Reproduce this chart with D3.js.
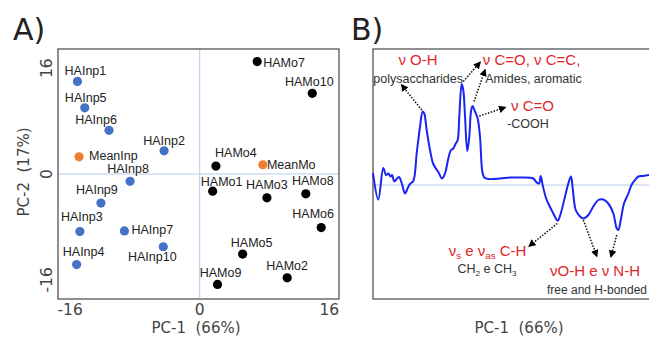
<!DOCTYPE html>
<html>
<head>
<meta charset="utf-8">
<script src="https://cdn.jsdelivr.net/npm/d3@7"></script>
<style>
  body { margin: 0; background: #fff; }
  svg { display: block; font-family: "Liberation Sans", Arial, sans-serif; }
</style>
</head>
<body>
<script>
// panel A scores (PC-1, PC-2)
var inpNames = ["HAInp1", "HAInp2", "HAInp3", "HAInp4", "HAInp5", "HAInp6", "HAInp7", "HAInp8", "HAInp9", "HAInp10"];
var inpPC1 = [-15.1, -4.4, -14.8, -15.2, -14.2, -11.2, -9.3, -8.6, -12.2, -4.5];
var inpPC2 = [14.0, 3.5, -8.7, -13.7, 10.0, 6.6, -8.6, -1.1, -4.4, -11.0];

var moNames = ["HAMo1", "HAMo2", "HAMo3", "HAMo4", "HAMo5", "HAMo6", "HAMo7", "HAMo8", "HAMo9", "HAMo10"];
var moPC1 = [1.6, 10.8, 8.3, 2.0, 5.3, 15.0, 7.1, 13.1, 2.2, 13.9];
var moPC2 = [-2.6, -15.7, -3.6, 1.2, -12.1, -8.1, 17.0, -3.0, -16.7, 12.2];

var meanNames = ["MeanInp", "MeanMo"];
var meanPC1 = [-14.9, 7.8];
var meanPC2 = [2.6, 1.4];

var tickValues = [-16, 0, 16];

// panel B loading spectrum (wavenumber, loading)
var specWave = [350, 423, 492, 529, 561, 591, 612, 643, 676, 708, 745, 791, 828, 859, 905, 952, 997, 1034, 1056, 1089,
  1135, 1180, 1249, 1300, 1341, 1387, 1424, 1456, 1489, 1516, 1538, 1571, 1593, 1617, 1648, 1676, 1699, 1720, 1754, 1791,
  1823, 1855, 1882, 1938, 2099, 2237, 2374, 2557, 2604, 2636, 2659, 2687, 2732, 2764, 2833, 2888, 2902, 2935, 2994, 3039,
  3076, 3100, 3141, 3200, 3246, 3315, 3383, 3452, 3521, 3590, 3659, 3706, 3728, 3761, 3806, 3866, 3912, 3958, 4003, 4072, 4150];
var specLoad = [0.024, -0.029, 0.034, 0.020, 0.023, 0.017, 0.020, 0.007, 0.012, 0.016, 0.004, -0.017, -0.006, 0.002, 0.008, 0.064, 0.116, 0.147, 0.143, 0.110,
  0.070, 0.042, 0.026, 0.013, 0.023, 0.053, 0.070, 0.073, 0.083, 0.090, 0.137, 0.202, 0.190, 0.137, 0.068, 0.097, 0.147, 0.158, 0.147, 0.133,
  0.097, 0.027, 0.015, 0.012, 0.013, 0.015, 0.015, 0.013, 0.005, 0.003, 0.018, -0.001, -0.026, -0.037, -0.057, -0.071, -0.070, -0.057, -0.023, 0.003,
  0.017, -0.007, -0.050, -0.063, -0.067, -0.060, -0.043, -0.030, -0.029, -0.037, -0.057, -0.087, -0.090, -0.070, -0.037, -0.017, 0.001, 0.010, 0.017, 0.018, 0.020];

// label placement for panel A (offset from point)
var labelPos = {
  HAInp1: [8, -11], HAInp2: [0, -10], HAInp3: [2, -15], HAInp4: [7, -13], HAInp5: [1, -10],
  HAInp6: [-13, -11], HAInp7: [7, -1, "start"], HAInp8: [-2, -13], HAInp9: [-4, -14], HAInp10: [-11, 10],
  HAMo1: [9, -10], HAMo2: [0, -12], HAMo3: [0, -13], HAMo4: [20, -14], HAMo5: [9, -12],
  HAMo6: [-8, -14], HAMo7: [6, 1, "start"], HAMo8: [7, -13], HAMo9: [3, -12], HAMo10: [-3, -12],
  MeanInp: [10, -1, "start"], MeanMo: [4, 0, "start"]
};

var w = 649, h = 338;
var svg = d3.select("body").append("svg").attr("width", w).attr("height", h);

var xA = d3.scaleLinear().domain([-17.5, 17.2]).range([58, 339]);
var yA = d3.scaleLinear().domain([-18.9, 18.9]).range([299, 49]);

var gA = svg.append("g");
// zero lines
gA.append("line").attr("x1", xA(0)).attr("x2", xA(0)).attr("y1", yA.range()[0]).attr("y2", yA.range()[1])
  .attr("stroke", "#b9cbea").attr("stroke-width", 1);
gA.append("line").attr("x1", xA.range()[0]).attr("x2", xA.range()[1]).attr("y1", yA(0)).attr("y2", yA(0))
  .attr("stroke", "#b9cbea").attr("stroke-width", 1);
gA.append("rect").attr("x", 58).attr("y", 49).attr("width", 281).attr("height", 250)
  .attr("fill", "none").attr("stroke", "#555").attr("stroke-width", 1.3);

// ticks
gA.selectAll(".xt").data(tickValues).enter().append("text")
  .attr("x", function (d) { return xA(d); }).attr("y", 315)
  .attr("text-anchor", "middle").attr("font-family", "DejaVu Sans").attr("font-size", 15.5)
  .attr("fill", "#444").text(function (d) { return d; });
gA.selectAll(".yt").data(tickValues).enter().append("text")
  .attr("transform", function (d) { return "translate(52," + yA(d) + ") rotate(-90)"; })
  .attr("text-anchor", "middle").attr("font-family", "DejaVu Sans").attr("font-size", 15.5)
  .attr("fill", "#444").text(function (d) { return d; });

gA.append("text").attr("x", 196).attr("y", 333).attr("text-anchor", "middle")
  .attr("font-family", "DejaVu Sans").attr("font-size", 15).attr("fill", "#444")
  .attr("xml:space", "preserve").text("PC-1  (66%)");
gA.append("text").attr("transform", "translate(29,172) rotate(-90)").attr("text-anchor", "middle")
  .attr("font-family", "DejaVu Sans").attr("font-size", 15).attr("fill", "#444")
  .attr("xml:space", "preserve").text("PC-2  (17%)");

svg.append("text").attr("x", 13).attr("y", 40).attr("font-family", "DejaVu Sans").attr("font-size", 30)
  .attr("fill", "#222").text("A)");
svg.append("text").attr("x", 351).attr("y", 40).attr("font-family", "DejaVu Sans").attr("font-size", 30)
  .attr("fill", "#222").text("B)");

function drawGroup(names, px, py, color) {
  var rows = names.map(function (n, i) { return { name: n, x: px[i], y: py[i] }; });
  gA.selectAll(null).data(rows).enter().append("circle")
    .attr("cx", function (d) { return xA(d.x); })
    .attr("cy", function (d) { return yA(d.y); })
    .attr("r", 4.6).attr("fill", color);
  gA.selectAll(null).data(rows).enter().append("text")
    .attr("x", function (d) { return xA(d.x) + labelPos[d.name][0]; })
    .attr("y", function (d) { return yA(d.y) + labelPos[d.name][1]; })
    .attr("dy", "0.36em")
    .attr("text-anchor", function (d) { return labelPos[d.name][2] || "middle"; })
    .attr("font-size", 12.5).attr("fill", "#222")
    .text(function (d) { return d.name; });
}
drawGroup(inpNames, inpPC1, inpPC2, "#4472c4");
drawGroup(moNames, moPC1, moPC2, "#000");
drawGroup(meanNames, meanPC1, meanPC2, "#ed7d31");

// panel B
var xB = d3.scaleLinear().domain([350, 4150]).range([373, 649]);
var yB = d3.scaleLinear().domain([-0.228, 0.272]).range([299, 49]);
var gB = svg.append("g");

gB.append("line").attr("x1", 373).attr("x2", 649).attr("y1", yB(0)).attr("y2", yB(0))
  .attr("stroke", "#b9cbea").attr("stroke-width", 1);
gB.append("rect").attr("x", 373).attr("y", 49).attr("width", 300).attr("height", 250)
  .attr("fill", "none").attr("stroke", "#555").attr("stroke-width", 1.3);

var spec = specWave.map(function (d, i) { return [d, specLoad[i]]; });
gB.append("path").datum(spec)
  .attr("d", d3.line().x(function (d) { return xB(d[0]); }).y(function (d) { return yB(d[1]); })
    .curve(d3.curveCatmullRom.alpha(0.5)))
  .attr("fill", "none").attr("stroke", "#1a24f2").attr("stroke-width", 2);

gB.append("text").attr("x", 519).attr("y", 333).attr("text-anchor", "middle")
  .attr("font-family", "DejaVu Sans").attr("font-size", 15).attr("fill", "#444")
  .attr("xml:space", "preserve").text("PC-1  (66%)");

// arrows
svg.append("defs").append("marker").attr("id", "ah").attr("viewBox", "0 0 10 10")
  .attr("refX", 8).attr("refY", 5).attr("markerWidth", 5).attr("markerHeight", 5)
  .attr("orient", "auto").append("path").attr("d", "M0,0L10,5L0,10z").attr("fill", "#000");

var arrowFrom = [[1021, 0.150], [1593, 0.207], [1741, 0.167], [1814, 0.138], [2888, -0.077], [3246, -0.070], [3706, -0.100]];
var arrowTo = [[745, 0.200], [1823, 0.245], [1892, 0.230], [2168, 0.155], [2502, -0.122], [3430, -0.142], [3627, -0.143]];
gB.selectAll(null).data(arrowFrom).enter().append("line")
  .attr("x1", function (d) { return xB(d[0]); }).attr("y1", function (d) { return yB(d[1]); })
  .attr("x2", function (d, i) { return xB(arrowTo[i][0]); }).attr("y2", function (d, i) { return yB(arrowTo[i][1]); })
  .attr("stroke", "#111").attr("stroke-width", 1.5).attr("stroke-dasharray", "1.5,1.5")
  .attr("marker-end", "url(#ah)");

function note(wn, ld, size, color, parts, anchor) {
  var t = gB.append("text").attr("x", xB(wn)).attr("y", yB(ld))
    .attr("text-anchor", anchor || "middle").attr("font-size", size).attr("fill", color);
  parts.forEach(function (p) {
    var s = t.append("tspan").text(p[0]);
    if (p[1] == "sub") s.attr("dy", 3).attr("font-size", size * 0.65);
    if (p[1] == "up") s.attr("dy", -3);
  });
}
var red = "#e0262b", grey = "#333";
note(970, 0.240, 15, red, [["ν O-H"]]);
note(355, 0.204, 12.5, grey, [["polysaccharides"]], "start");
note(2533, 0.240, 15, red, [["ν C=O, ν C=C,"]]);
note(2560, 0.204, 12.5, grey, [["Amides, aromatic"]]);
note(2546, 0.148, 15, red, [["ν C=O"]]);
note(2484, 0.114, 12.5, grey, [["-COOH"]]);
note(1927, -0.142, 15, red, [["ν"], ["s", "sub"], [" e ν", "up"], ["as", "sub"], [" C-H", "up"]]);
note(1920, -0.176, 12.5, grey, [["CH"], ["2", "sub"], [" e CH", "up"], ["3", "sub"]]);
note(3407, -0.182, 15, red, [["νO-H e ν N-H"]]);
note(3434, -0.218, 12, grey, [["free and H-bonded"]]);
</script>
</body>
</html>
